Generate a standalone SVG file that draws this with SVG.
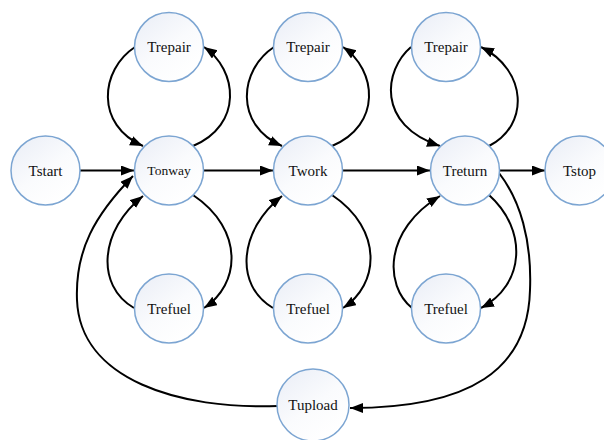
<svg xmlns="http://www.w3.org/2000/svg" width="604" height="440" viewBox="0 0 604 440">
<style>
.node circle{fill:url(#g);stroke:#7ca5d2;stroke-width:1.5}
.node text{font-family:'Liberation Serif','DejaVu Serif',serif;font-size:15px;fill:#111;text-anchor:middle}
.edges path{fill:none;stroke:#000;stroke-width:2;marker-end:url(#ah)}
</style>
<defs>
<linearGradient id="g" x1="0.2" y1="0.1" x2="0.8" y2="0.9">
<stop offset="0" stop-color="#eef1f8"/>
<stop offset="0.5" stop-color="#fafbfd"/>
<stop offset="1" stop-color="#ffffff"/>
</linearGradient>
<marker id="ah" markerUnits="userSpaceOnUse" markerWidth="14" markerHeight="11" refX="13" refY="5" orient="auto">
<path d="M0,0 L13,5 L0,10 z" fill="#000"/>
</marker>
</defs>
<rect width="604" height="440" fill="#fff"/>
<g class="edges">
<path d="M80,170.5 L134,170.5"/>
<path d="M204,170.5 L273,170.5"/>
<path d="M343,170.5 L430,170.5"/>
<path d="M500,170.5 L545,170.5"/>
<path d="M135,47 C100,70 95,125 143,146"/>
<path d="M193,146 C243,125 238,70 204,47"/>
<path d="M193,195 C245,230 240,285 204,308"/>
<path d="M134,308 C95,285 100,230 143,196"/>
<path d="M274,47 C239,70 234,125 282,146"/>
<path d="M332,146 C382,125 377,70 343,47"/>
<path d="M332,195 C384,230 379,285 343,308"/>
<path d="M273,308 C234,285 239,230 282,196"/>
<path d="M411,47 C384,70 376,125 440,146"/>
<path d="M489,146 C530,125 527,70 481,47"/>
<path d="M489,195 C528,230 525,285 481,308"/>
<path d="M412,308 C384,285 384,230 440,196"/>
<path d="M278,406 C180,410 80,380 77,300 C75,250 95,215 133,176"/>
<path d="M499,173 C520,200 532,240 530,290 C528,370 470,408 350,408"/>
</g>
<g id="Tstart" class="node"><circle cx="45.5" cy="170.5" r="34.5"/><text x="45.5" y="175.5">Tstart</text></g>
<g id="Tonway" class="node"><circle cx="169" cy="170.5" r="34.5"/><text x="169" y="175" style="font-size:13.5px">Tonway</text></g>
<g id="Twork" class="node"><circle cx="308" cy="170.5" r="34.5"/><text x="308" y="175.5">Twork</text></g>
<g id="Treturn" class="node"><circle cx="465" cy="170.5" r="34.5"/><text x="465" y="175.5">Treturn</text></g>
<g id="Tstop" class="node"><circle cx="579.5" cy="170.5" r="34.5"/><text x="579.5" y="175.5">Tstop</text></g>
<g id="Trepair1" class="node"><circle cx="169" cy="47" r="34.5"/><text x="169" y="52">Trepair</text></g>
<g id="Trepair2" class="node"><circle cx="308" cy="47" r="34.5"/><text x="308" y="52">Trepair</text></g>
<g id="Trepair3" class="node"><circle cx="446" cy="47" r="34.5"/><text x="446" y="52">Trepair</text></g>
<g id="Trefuel1" class="node"><circle cx="169" cy="308.5" r="34.5"/><text x="169" y="313.5">Trefuel</text></g>
<g id="Trefuel2" class="node"><circle cx="308" cy="308.5" r="34.5"/><text x="308" y="313.5">Trefuel</text></g>
<g id="Trefuel3" class="node"><circle cx="446" cy="308.5" r="34.5"/><text x="446" y="313.5">Trefuel</text></g>
<g id="Tupload" class="node"><circle cx="313" cy="405" r="36"/><text x="313" y="410">Tupload</text></g>
</svg>
